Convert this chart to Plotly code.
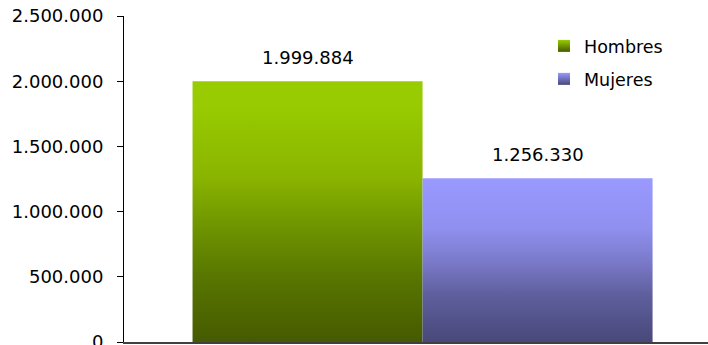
import plotly.graph_objects as go

categories = ["Hombres", "Mujeres"]
values = [1999884, 1256330]
label_texts = ["1.999.884", "1.256.330"]
tick_vals = [0, 500000, 1000000, 1500000, 2000000, 2500000]
tick_text = ["0", "500.000", "1.000.000", "1.500.000", "2.000.000", "2.500.000"]

top_colors = ["#99CC00", "#9999FF"]
bottom_colors = ["#465A00", "#48487A"]
gradient_scales = [
    [[0, "#465A00"], [0.25, "#587600"], [0.44, "#6E9400"], [0.63, "#8AB400"],
     [0.89, "#97CA00"], [1, "#99CC00"]],
    [[0, "#48487A"], [0.29, "#5F5F9E"], [0.50, "#7B7BCC"], [0.70, "#9090F0"],
     [1, "#9999FF"]],
]

FONT = "DejaVu Sans"
FS = 18
fig = go.Figure()
legend_names = ["legend", "legend2"]
for i, (name, v) in enumerate(zip(categories, values)):
    fig.add_trace(go.Scatter(
        x=[i - 0.5, i + 0.5, i + 0.5, i - 0.5, i - 0.5],
        y=[0, 0, v, v, 0],
        mode="lines",
        line=dict(width=0),
        fill="toself",
        fillgradient=dict(type="vertical", colorscale=gradient_scales[i],
                          start=0, stop=v),
        name=name,
        hoveron="fills",
        showlegend=False,
    ))
    # legend entry (square swatch)
    fig.add_trace(go.Scatter(
        x=[None], y=[None], mode="markers", name=name,
        marker=dict(symbol="square", size=9, color=top_colors[i],
                    gradient=dict(type="vertical", color=bottom_colors[i]),
                    line=dict(width=0)),
        legend=legend_names[i],
    ))
    fig.add_annotation(x=i, y=v, text=label_texts[i], showarrow=False,
                       yshift=24, font=dict(family=FONT, size=FS, color="#000"))

leg_common = dict(xanchor="left", yanchor="middle", font=dict(family=FONT, size=FS - 0.5),
                  bgcolor="rgba(0,0,0,0)", itemsizing="constant")
fig.update_layout(
    width=708, height=345,
    margin=dict(l=124, r=0, t=16, b=3),
    plot_bgcolor="white", paper_bgcolor="white",
    font=dict(family=FONT, size=FS, color="#000"),
    showlegend=True,
    legend=dict(x=(544 - 124) / 584, y=1 - (46 - 16) / 326, **leg_common),
    legend2=dict(x=(544 - 124) / 584, y=1 - (79 - 16) / 326, **leg_common),
    xaxis=dict(range=[-0.798, 1.741], showticklabels=False, ticks="",
               showgrid=False, zeroline=False, showline=True, automargin=False,
               linecolor="#404040", linewidth=2, fixedrange=True),
    yaxis=dict(range=[0, 2500000], tickvals=tick_vals, ticktext=tick_text,
               ticks="outside", ticklen=6, tickcolor="#000", automargin=False,
               ticklabeloverflow="allow",
               showgrid=False, zeroline=False, showline=True,
               linecolor="#000", linewidth=1, ticklabelstandoff=10),
)
fig.write_html("out.html", config={"displayModeBar": False},
               post_script="document.body.style.margin='0';document.body.style.overflow='hidden';")
